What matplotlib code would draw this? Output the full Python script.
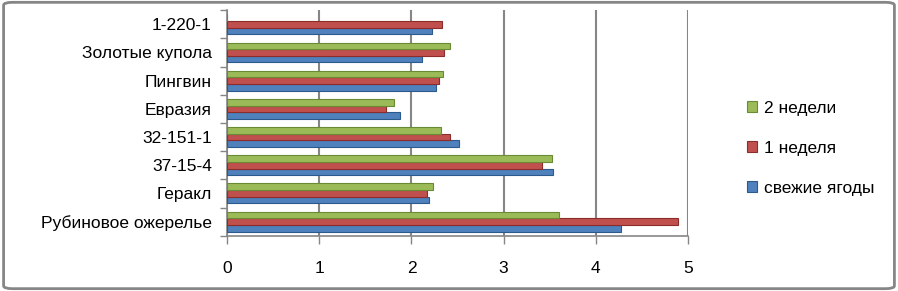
import numpy as np
import matplotlib
matplotlib.use("Agg")
import matplotlib.pyplot as plt
from matplotlib.patches import FancyBboxPatch

plt.rcParams["font.family"] = ["Liberation Sans", "DejaVu Sans"]

# categories listed bottom to top
categories = ["Рубиновое ожерелье", "Геракл", "37-15-4", "32-151-1",
              "Евразия", "Пингвин", "Золотые купола", "1-220-1"]
fresh = [4.27, 2.19, 3.54, 2.52, 1.88, 2.27, 2.11, 2.22]
week1 = [4.89, 2.17, 3.42, 2.42, 1.72, 2.30, 2.35, 2.33]
week2 = [3.60, 2.23, 3.53, 2.32, 1.81, 2.34, 2.42, 0.0]
x_ticks = [0, 1, 2, 3, 4, 5]

fig = plt.figure(figsize=(8.98, 2.91), dpi=100)
ax = fig.add_axes([0.253, 0.19, 0.513, 0.775])

y = np.arange(len(categories))
h = 0.235
series = [
    (fresh, -h, "#4F81BD", "#2C5A8C", "свежие ягоды"),
    (week1, 0.0, "#C0504D", "#8C2D2B", "1 неделя"),
    (week2, h, "#9BBB59", "#6A8A34", "2 недели"),
]
handles = {}
for vals, off, col, edge, lab in series:
    bars = ax.barh(y + off, vals, height=h, color=col, edgecolor=edge,
                   linewidth=0.8, label=lab, zorder=3)
    handles[lab] = bars

ax.set_xlim(0, 5)
ax.set_ylim(-0.5, len(categories) - 0.5)
ax.set_xticks(x_ticks)
ax.set_xticklabels([str(v) for v in x_ticks], fontsize=12.5)
ax.set_yticks(y)
ax.set_yticklabels(categories, fontsize=12.5)
ax.tick_params(axis="y", length=0, pad=11)
ax.set_yticks(np.arange(len(categories) + 1) - 0.5, minor=True)
ax.tick_params(axis="y", which="minor", length=5, color="#868686", width=1)
ax.tick_params(axis="x", length=6, color="#868686", width=1, pad=12)
ax.xaxis.grid(True, color="#868686", linewidth=1.5, zorder=0)
for s in ["top", "right"]:
    ax.spines[s].set_visible(False)
for s in ["left", "bottom"]:
    ax.spines[s].set_color("#868686")
    ax.spines[s].set_linewidth(1.2)

order = ["2 недели", "1 неделя", "свежие ягоды"]
fig.legend([handles[k] for k in order], order, loc="center left",
           bbox_to_anchor=(0.814, 0.49), frameon=False, fontsize=12.5,
           handlelength=0.6, handleheight=0.6, handletextpad=0.4,
           labelspacing=1.45)

border = FancyBboxPatch((0.004, 0.008), 0.992, 0.984, transform=fig.transFigure,
                        boxstyle="round,pad=0,rounding_size=0.01",
                        facecolor="none", edgecolor="#868686", linewidth=2)
fig.patches.append(border)

fig.savefig("out.png", dpi=100)
